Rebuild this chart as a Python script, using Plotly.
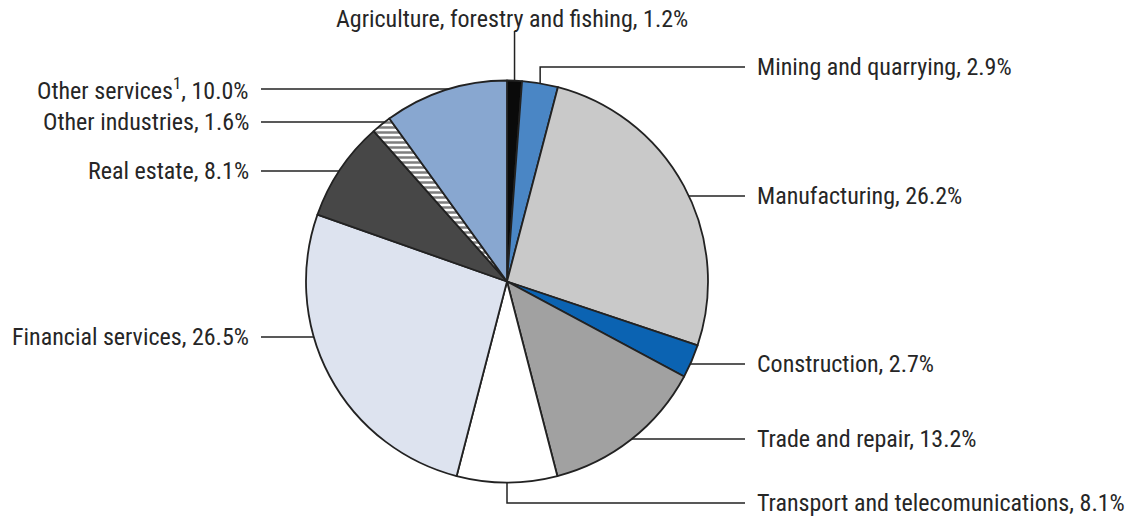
import math
import plotly.graph_objects as go

# ---- data ----
sectors = [
    "Agriculture, forestry and fishing",
    "Mining and quarrying",
    "Manufacturing",
    "Construction",
    "Trade and repair",
    "Transport and telecomunications",
    "Financial services",
    "Real estate",
    "Other industries",
    "Other services<sup>1</sup>",
]
shares = [1.2, 2.9, 26.2, 2.7, 13.2, 8.1, 26.5, 8.1, 1.6, 10.0]
colors = ["#0a0a0a", "#4a86c5", "#c9c9c9", "#0b63b2", "#a1a1a1",
          "#ffffff", "#dde3ef", "#474747", "#ffffff", "#88a7d0"]
patterns = ["", "", "", "", "", "", "", "", "-", ""]

# ---- layout constants (pixels) ----
W, H = 1130, 518
CX, CY, R = 507, 281.5, 201
FONT = "Roboto Condensed, Liberation Sans Narrow, Arial Narrow, sans-serif"
TXT = "#262626"
LINE = "#222222"

# label placements: (side, label y px, kind)
placements = [
    ("top", 19, "vertical"),
    ("right", 67, "elbow"),
    ("right", 196, "h"),
    ("right", 364, "h"),
    ("right", 439, "h"),
    ("right", 503, "elbow"),
    ("left", 337, "h"),
    ("left", 171, "h"),
    ("left", 122, "h"),
    ("left", 89, "h"),
]
RIGHT_LINE_END = 745
RIGHT_TEXT_X = 755
LEFT_LINE_START = 261
LEFT_TEXT_X = 251


def px(x):
    return x / W


def py(y):
    return 1 - y / H


fig = go.Figure(go.Pie(
    labels=sectors,
    values=shares,
    sort=False,
    direction="clockwise",
    rotation=0,
    textinfo="none",
    hoverinfo="label+value",
    showlegend=False,
    marker=dict(
        colors=colors,
        line=dict(color=LINE, width=1.8),
        pattern=dict(shape=patterns, fgcolor="#000000", bgcolor="#ffffff",
                     size=5, solidity=0.5, fillmode="overlay"),
    ),
    domain=dict(x=[px(CX - R), px(CX + R)], y=[py(CY + R), py(CY - R)]),
))

total = sum(shares)
cum = 0.0
shapes = []
annotations = []
for name, val, (side, ly, kind) in zip(sectors, shares, placements):
    mid = (cum + val / 2) / total * 2 * math.pi
    cum += val
    label = f"{name}, {val:.1f}%"
    mx = CX + R * math.sin(mid)
    my = CY - R * math.cos(mid)
    if kind == "vertical":
        shapes.append(dict(type="line", xref="paper", yref="paper",
                           x0=px(mx), y0=py(my), x1=px(mx), y1=py(ly + 12),
                           line=dict(color=LINE, width=1.5)))
        annotations.append(dict(x=px(mx - 3), y=py(ly), text=label, xanchor="center",
                                yanchor="middle", showarrow=False))
    elif kind == "elbow":
        shapes.append(dict(type="path", xref="paper", yref="paper",
                           path=f"M {px(mx)},{py(my)} L {px(mx)},{py(ly)} L {px(RIGHT_LINE_END)},{py(ly)}",
                           line=dict(color=LINE, width=1.5)))
        annotations.append(dict(x=px(RIGHT_TEXT_X), y=py(ly), text=label, xanchor="left",
                                yanchor="middle", showarrow=False))
    else:
        dy = ly - CY
        dx = math.sqrt(max(R * R - dy * dy, 0))
        if side == "right":
            ex = CX + dx
            shapes.append(dict(type="line", xref="paper", yref="paper",
                               x0=px(ex), y0=py(ly), x1=px(RIGHT_LINE_END), y1=py(ly),
                               line=dict(color=LINE, width=1.5)))
            annotations.append(dict(x=px(RIGHT_TEXT_X), y=py(ly), text=label, xanchor="left",
                                    yanchor="middle", showarrow=False))
        else:
            ex = CX - dx
            shapes.append(dict(type="line", xref="paper", yref="paper",
                               x0=px(LEFT_LINE_START), y0=py(ly), x1=px(ex), y1=py(ly),
                               line=dict(color=LINE, width=1.5)))
            annotations.append(dict(x=px(LEFT_TEXT_X), y=py(ly), text=label, xanchor="right",
                                    yanchor="middle", showarrow=False))

fig.update_layout(
    width=W, height=H,
    margin=dict(l=0, r=0, t=0, b=0),
    paper_bgcolor="white",
    plot_bgcolor="white",
    font=dict(family=FONT, size=24, color=TXT),
    shapes=shapes,
    annotations=annotations,
)

fig.write_html("out.html",
               config={"displayModeBar": False},
               post_script="document.body.style.margin='0';document.body.style.overflow='hidden';")
